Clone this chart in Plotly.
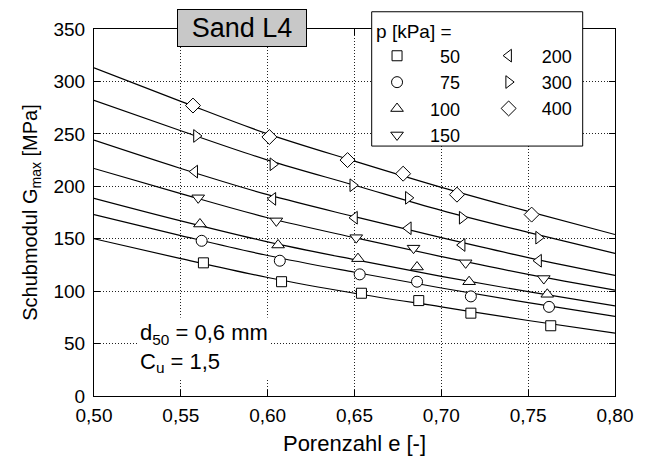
import plotly.graph_objects as go

# Porenzahl e (measured points) per confining pressure p [kPa]
pressures = [50, 75, 100, 150, 200, 300, 400]

e_50 = [0.563, 0.608, 0.654, 0.687, 0.717, 0.763]
g_50 = [127, 109, 98, 91, 79, 67]
e_75 = [0.562, 0.607, 0.653, 0.686, 0.717, 0.762]
g_75 = [148, 129, 116, 109, 95, 85]
e_100 = [0.561, 0.606, 0.652, 0.686, 0.716, 0.761]
g_100 = [164, 144, 131, 123, 109, 97]
e_150 = [0.560, 0.605, 0.651, 0.684, 0.714, 0.759]
g_150 = [189, 167, 151, 141, 127, 112]
e_200 = [0.558, 0.603, 0.650, 0.681, 0.712, 0.756]
g_200 = [214, 188, 170, 160, 144, 129]
e_300 = [0.559, 0.603, 0.649, 0.681, 0.712, 0.756]
g_300 = [248, 221, 201, 189, 170, 151]
e_400 = [0.557, 0.601, 0.646, 0.678, 0.709, 0.752]
g_400 = [277, 247, 225, 212, 192, 173]

# Fitted curves, read at the grid values of e
e_fit = [0.50, 0.55, 0.60, 0.65, 0.70, 0.75, 0.80]
fit_50 = [150, 131, 113, 98, 85, 72, 60]
fit_75 = [173, 153, 134, 118, 103, 89, 76]
fit_100 = [188.5, 167, 147, 130, 114, 99.5, 86]
fit_150 = [217, 193, 170, 151, 133, 116, 101]
fit_200 = [244, 217, 192, 171, 151, 132, 115]
fit_300 = [282, 253, 225, 201, 177, 156, 136]
fit_400 = [313, 281, 250, 224, 199, 176, 154]

x_ticks = [0.50, 0.55, 0.60, 0.65, 0.70, 0.75, 0.80]
y_ticks = [0, 50, 100, 150, 200, 250, 300, 350]

series = [
    (50, e_50, g_50, fit_50, "square", 10),
    (75, e_75, g_75, fit_75, "circle", 11),
    (100, e_100, g_100, fit_100, "triangle-up", 11),
    (150, e_150, g_150, fit_150, "triangle-down", 11),
    (200, e_200, g_200, fit_200, "triangle-left", 11),
    (300, e_300, g_300, fit_300, "triangle-right", 11),
    (400, e_400, g_400, fit_400, "diamond", 11.5),
]

FONT = "Liberation Sans, Arial, Helvetica, sans-serif"
FSP = "\u2007"  # figure space, used to right-align the pressure values

fig = go.Figure()

for p, ex, gx, gf, sym, sz in series:
    fig.add_trace(go.Scatter(
        x=e_fit, y=gf, mode="lines", line=dict(color="black", width=1.2, shape="spline"),
        showlegend=False, hoverinfo="skip"))

for p, ex, gx, gf, sym, sz in series:
    label = (FSP * 2 if p < 100 else FSP) + str(p)
    fig.add_trace(go.Scatter(
        x=ex, y=gx, mode="markers", name=label,
        legend="legend" if p < 200 else "legend2",
        marker=dict(symbol=sym, size=sz, color="white", line=dict(color="black", width=1))))

axis_common = dict(
    showline=True, linecolor="black", linewidth=1.2, mirror="ticks",
    ticks="inside", ticklen=6, tickcolor="black", tickwidth=1,
    showgrid=True, gridcolor="#222222", gridwidth=1, griddash="1px,2px",
    zeroline=False, tickfont=dict(family=FONT, size=19, color="black"),
)

fig.update_xaxes(range=[0.5, 0.8], tickvals=x_ticks, tickformat=".2f", ticklabelstandoff=2,
                 title=dict(text="Porenzahl e [-]", font=dict(family=FONT, size=22, color="black"), standoff=10),
                 **axis_common)
fig.update_yaxes(range=[0, 350], tickvals=y_ticks, ticklabelstandoff=4,
                 title=dict(text="Schubmodul G<sub>max</sub> [MPa]", font=dict(family=FONT, size=20, color="black"), standoff=10),
                 **axis_common)

fig.add_annotation(
    text="Sand L4", xref="paper", yref="paper", x=0.284, y=1.002,
    xanchor="center", yanchor="middle", showarrow=False,
    font=dict(family=FONT, size=27, color="black"),
    bgcolor="#c8c8c8", bordercolor="black", borderwidth=1, borderpad=1,
    width=126, height=34)

fig.add_annotation(
    text="d<sub>50</sub> = 0,6 mm<br>C<sub>u</sub> = 1,5", xref="paper", yref="paper",
    x=0.082, y=0.132, xanchor="left", yanchor="middle", align="left", showarrow=False,
    font=dict(family=FONT, size=22, color="black"), bgcolor="white", borderpad=2)

# frame of the two-column key
fig.add_shape(type="rect", xref="paper", yref="paper",
              x0=0.533, x1=0.938, y0=0.681, y1=1.047,
              fillcolor="white", line=dict(color="black", width=1), layer="above")

legend_common = dict(
    orientation="v", xanchor="left", yanchor="top", itemwidth=36,
    font=dict(family=FONT, size=18, color="black"),
    bgcolor="rgba(0,0,0,0)", borderwidth=0, tracegroupgap=0,
)

fig.update_layout(
    width=651, height=462,
    margin=dict(l=94, r=36, t=29, b=66),
    paper_bgcolor="white", plot_bgcolor="white",
    separators=",.",
    font=dict(family=FONT, color="black"),
    legend=dict(x=0.5375, y=1.044,
                title=dict(text="p [kPa] =", side="top", font=dict(family=FONT, size=19)),
                **legend_common),
    legend2=dict(x=0.7517, y=1.044 - 0.067, **legend_common),
)

fig.write_html("out.html")
